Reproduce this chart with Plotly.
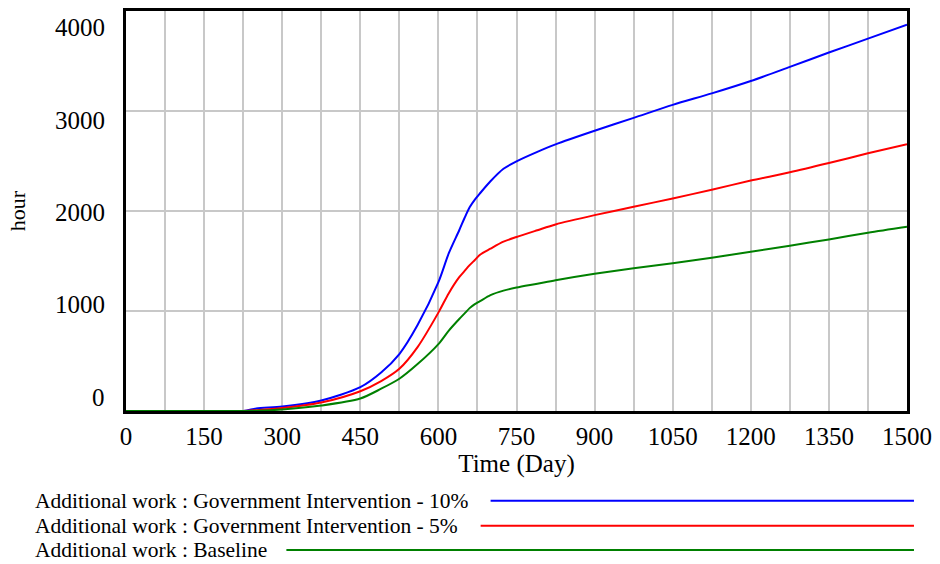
import plotly.graph_objects as go

# Simulation time (days) and the additional work (hours) for each scenario
days = [0, 225, 250, 300, 375, 450, 490, 525, 560, 600, 620, 640, 650, 660, 670,
        680, 700, 725, 750, 790, 825, 900, 975, 1050, 1125, 1200, 1275, 1350,
        1425, 1500]

gov_10 = [0, 0, 25, 45, 105, 238, 385, 570, 860, 1290, 1580, 1810, 1930, 2040, 2117,
          2180, 2300, 2425, 2500, 2595, 2670, 2806, 2935, 3065, 3180, 3304, 3445, 3589,
          3728, 3868]

gov_5 = [0, 0, 8, 30, 85, 198, 300, 423, 640, 985, 1180, 1340, 1400, 1460, 1512,
         1565, 1625, 1695, 1742, 1810, 1868, 1961, 2045, 2128, 2216, 2307, 2390, 2483,
         2580, 2672]

baseline = [0, 0, 2, 15, 55, 125, 223, 323, 470, 670, 805, 921, 975, 1030, 1070,
            1100, 1160, 1205, 1236, 1275, 1310, 1375, 1430, 1480, 1535, 1595, 1655, 1718,
            1785, 1845]

series_names = [
    "Additional work : Government Intervention - 10%",
    "Additional work : Government Intervention - 5%",
    "Additional work : Baseline",
]
series_values = [gov_10, gov_5, baseline]
series_colors = ["#0000ff", "#ff0000", "#008000"]

x_ticks = list(range(0, 1501, 75))
x_labels = [str(v) if v % 150 == 0 else "" for v in x_ticks]
y_ticks = [0, 1000, 2000, 3000, 4000]

FONT = "Liberation Serif, Times New Roman, serif"

W, H = 940, 564
ML, MR, MT, MB = 126, 30, 8, 153
PW, PH = W - ML - MR, H - MT - MB


def px_x(px):
    return (px - ML) / PW


def px_y(py):
    return (H - MB - py) / PH


fig = go.Figure()
for name, vals, col in zip(series_names, series_values, series_colors):
    fig.add_trace(go.Scatter(x=days, y=vals, mode="lines", name=name,
                             line=dict(color=col, width=2, shape="spline", smoothing=0.8),
                             showlegend=False))

annotations = []
shapes = []

# y tick labels spread evenly between the bottom and top of the frame
label_top, label_bottom = 25, 397
n = len(y_ticks)
for i, v in enumerate(y_ticks):
    py = label_bottom - i * (label_bottom - label_top) / (n - 1)
    annotations.append(dict(x=px_x(107), y=px_y(py), xref="paper", yref="paper",
                            text=str(v), showarrow=False, xanchor="right", yanchor="middle",
                            font=dict(family=FONT, size=25, color="black")))

# legend rows: label text followed by a line sample
legend_rows = [(501.5, 492), (526.5, 482), (551, 287)]
for (py, line_start), name, col in zip(legend_rows, series_names, series_colors):
    annotations.append(dict(x=px_x(33), y=px_y(py), xref="paper", yref="paper",
                            text=name, showarrow=False, xanchor="left", yanchor="middle",
                            font=dict(family=FONT, size=21.5, color="black")))
    shapes.append(dict(type="line", xref="paper", yref="paper",
                       x0=px_x(line_start), x1=px_x(917), y0=px_y(py), y1=px_y(py),
                       line=dict(color=col, width=2)))

fig.update_layout(
    width=W, height=H,
    margin=dict(l=ML, r=MR, t=MT, b=MB),
    paper_bgcolor="white", plot_bgcolor="white",
    font=dict(family=FONT, color="black"),
    annotations=annotations,
    shapes=shapes,
    xaxis=dict(range=[0, 1500], tickvals=x_ticks, ticktext=x_labels,
               showgrid=True, gridcolor="#c8c8c8", gridwidth=1.5,
               ticks="outside", ticklen=1, tickcolor="rgba(0,0,0,0)",
               tickfont=dict(family=FONT, size=25, color="black"),
               showline=True, linecolor="black", linewidth=3, mirror=True,
               zeroline=False,
               title=dict(text="Time (Day)", standoff=6,
                          font=dict(family=FONT, size=25, color="black"))),
    yaxis=dict(range=[0, 4005], tickvals=y_ticks, showticklabels=False,
               showgrid=True, gridcolor="#c8c8c8", gridwidth=1.5,
               showline=True, linecolor="black", linewidth=3, mirror=True,
               zeroline=False,
               title=dict(text="hour", standoff=92,
                          font=dict(family=FONT, size=22, color="black"))),
)

fig.write_html("out.html")
